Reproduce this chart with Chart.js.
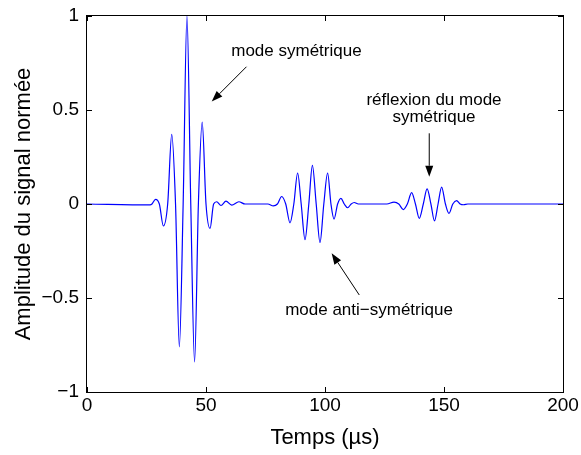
<!DOCTYPE html>
<html>
<head>
<meta charset="utf-8">
<script src="https://cdn.jsdelivr.net/npm/chart.js@4.4.1/dist/chart.umd.min.js"></script>
<style>
  html, body { margin: 0; padding: 0; background: #fff; }
  canvas { display: block; }
</style>
</head>
<body>
<canvas id="signalChart" width="581" height="455"></canvas>
<script>
// time axis (µs) and normalised amplitude (peaks + zero crossings)
const time = [0, 26.5, 27.3, 28.8, 30.4, 32.1, 33.9, 35.6, 37.2, 38.8,
    40.4, 42.0, 43.6, 45.2, 46.8, 48.4, 50.0, 51.7, 53.2, 54.5,
    56.3, 58.4, 60.8, 63.8, 66.4, 76, 78.3, 80.0, 81.8, 83.5,
    85.3, 86.9, 88.5, 90.0, 91.6, 93.2, 94.7, 96.3, 97.9, 99.5,
    101.1, 102.5, 103.8, 105.3, 106.7, 108.1, 109.5, 111.0, 112.3, 114,
    126, 129, 131, 132.9, 134.6, 136.4, 138.0, 139.6, 141.3, 142.9,
    144.5, 146.0, 147.5, 149.0, 150.6, 152.1, 153.7, 155.3, 156.8, 158.2,
    160, 200];
const amplitude = [0, -0.005, 0, 0.025, 0, -0.117, 0, 0.37, 0, -0.76,
    0, 1.0, 0, -0.84, 0, 0.435, 0, -0.13, 0, 0.012,
    -0.008, 0.015, -0.006, 0.012, 0, 0, -0.01, 0, 0.04, 0,
    -0.10, 0, 0.165, 0, -0.19, 0, 0.205, 0, -0.205, 0,
    0.165, 0, -0.08, 0, 0.03, 0, -0.02, 0, 0.008, 0,
    0, 0.01, 0, -0.03, 0, 0.06, 0, -0.076, 0, 0.08,
    0, -0.09, 0, 0.09, 0, -0.05, 0, 0.018, 0, -0.004,
    0, 0];
const xTicks = [0, 50, 100, 150, 200];
const yTicks = [-1, -0.5, 0, 0.5, 1];

const FONT = '"Liberation Sans", Arial, Helvetica, sans-serif';

// annotations (in data coordinates)
const notes = [
    { lines: ['mode symétrique'], x: 88, y: 0.81, from: [67, 0.73], to: [52.4, 0.545] },
    { lines: ['réflexion du mode', 'symétrique'], x: 145.8, y: 0.553, from: [143.8, 0.376], to: [143.8, 0.145] },
    { lines: ['mode anti\u2212symétrique'], x: 118.5, y: -0.564, from: [114.4, -0.484], to: [102.8, -0.262] }
];

const points = time.map((t, i) => ({ x: t, y: amplitude[i] }));

const fmt = v => (v < 0 ? '\u2212' + Math.abs(v) : String(v));

const frameAndNotes = {
    id: 'frameAndNotes',
    afterDraw(chart) {
        const { ctx, chartArea: a, scales } = chart;
        const sx = scales.x, sy = scales.y;
        ctx.save();
        ctx.strokeStyle = '#000';
        ctx.lineWidth = 1;
        // box
        ctx.strokeRect(Math.round(a.left) - 0.5, Math.round(a.top) - 0.5,
            Math.round(a.right - a.left) + 1, Math.round(a.bottom - a.top) + 1);
        // inward ticks, all four sides
        const tl = 5;
        ctx.beginPath();
        xTicks.forEach(v => {
            const px = Math.round(sx.getPixelForValue(v)) + 0.5;
            ctx.moveTo(px, a.bottom); ctx.lineTo(px, a.bottom - tl);
            ctx.moveTo(px, a.top); ctx.lineTo(px, a.top + tl);
        });
        yTicks.forEach(v => {
            const py = Math.round(sy.getPixelForValue(v)) + 0.5;
            ctx.moveTo(a.left, py); ctx.lineTo(a.left + tl, py);
            ctx.moveTo(a.right, py); ctx.lineTo(a.right - tl, py);
        });
        ctx.stroke();

        // text notes + arrows
        ctx.fillStyle = '#000';
        ctx.font = '17px ' + FONT;
        ctx.textAlign = 'center';
        ctx.textBaseline = 'middle';
        notes.forEach(n => {
            const cx = sx.getPixelForValue(n.x), cy = sy.getPixelForValue(n.y);
            n.lines.forEach((line, i) => ctx.fillText(line, cx, cy + i * 17));
            const x1 = sx.getPixelForValue(n.from[0]), y1 = sy.getPixelForValue(n.from[1]);
            const x2 = sx.getPixelForValue(n.to[0]), y2 = sy.getPixelForValue(n.to[1]);
            const ang = Math.atan2(y2 - y1, x2 - x1);
            const hl = 11, hw = 4;
            ctx.beginPath();
            ctx.moveTo(x1, y1);
            ctx.lineTo(x2 - hl * Math.cos(ang), y2 - hl * Math.sin(ang));
            ctx.stroke();
            ctx.beginPath();
            ctx.moveTo(x2, y2);
            ctx.lineTo(x2 - hl * Math.cos(ang) + hw * Math.sin(ang), y2 - hl * Math.sin(ang) - hw * Math.cos(ang));
            ctx.lineTo(x2 - hl * Math.cos(ang) - hw * Math.sin(ang), y2 - hl * Math.sin(ang) + hw * Math.cos(ang));
            ctx.closePath();
            ctx.fill();
        });
        ctx.restore();
    }
};

const ctx = document.getElementById('signalChart').getContext('2d');
const chart = new Chart(ctx, {
    type: 'line',
    data: {
        datasets: [{
            data: points,
            borderColor: '#0000ff',
            borderWidth: 1.2,
            pointRadius: 0,
            fill: false,
            cubicInterpolationMode: 'monotone'
        }]
    },
    options: {
        responsive: false,
        animation: false,
        devicePixelRatio: 1,
        layout: { padding: { top: 16, right: 18, left: 0, bottom: 0 } },
        plugins: { legend: { display: false }, tooltip: { enabled: false } },
        scales: {
            x: {
                type: 'linear',
                min: 0, max: 200,
                afterFit: s => { s.height = 63; s.paddingLeft = 0; s.paddingRight = 0; },
                afterBuildTicks: s => { s.ticks = xTicks.map(v => ({ value: v })); },
                grid: { display: false, drawTicks: false },
                border: { display: false },
                ticks: { callback: fmt, color: '#000', padding: 2, maxRotation: 0, font: { family: FONT, size: 19 } },
                title: { display: true, text: 'Temps (\u00b5s)', color: '#000', padding: { top: 0 }, font: { family: FONT, size: 22 } }
            },
            y: {
                type: 'linear',
                min: -1, max: 1,
                afterFit: s => { s.width = 87; s.paddingTop = 0; s.paddingBottom = 0; },
                afterBuildTicks: s => { s.ticks = yTicks.map(v => ({ value: v })); },
                grid: { display: false, drawTicks: false },
                border: { display: false },
                ticks: { callback: fmt, color: '#000', padding: 8, font: { family: FONT, size: 19 } },
                title: { display: true, text: 'Amplitude du signal normée', color: '#000', padding: { top: 11, bottom: 0 }, font: { family: FONT, size: 22 } }
            }
        }
    },
    plugins: [frameAndNotes]
});
</script>
</body>
</html>
